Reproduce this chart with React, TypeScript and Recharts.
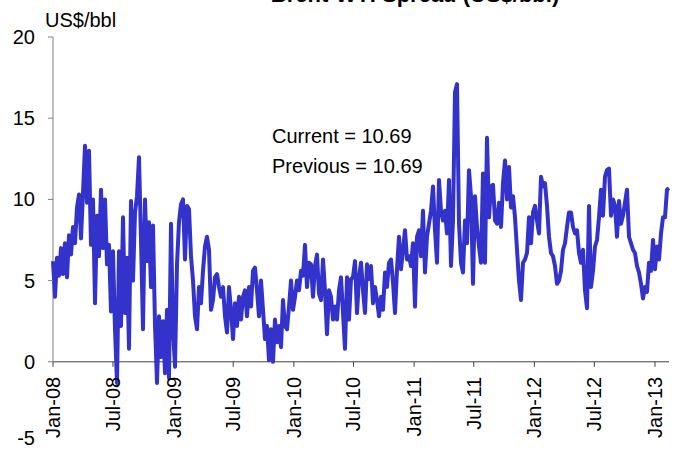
import React from 'react';
import { LineChart, Line, XAxis, YAxis, ReferenceLine } from 'recharts';

// spread series, one reading roughly every 6 days from 1 Jan 2008
const START = Date.UTC(2008, 0, 1);
const DAY = 86400000;
const STEP_DAYS = 6.07;

const values2008 = [
  6.2, 4.0, 6.4, 5.3, 7.0, 5.4, 7.3, 5.2, 7.8, 6.6, 8.3, 7.3, 9.5, 10.3, 7.6, 10.4,
  13.3, 9.8, 13.0, 7.2, 10.0, 3.6, 9.0, 6.5, 10.6, 7.0, 10.0, 6.0, 7.2, 3.1, 6.8,
  2.0, -1.3, 6.8, 2.2, 8.9, 3.0, 6.4, 0.8, 9.9, 5.0, 9.2, 10.2, 12.6, 7.5, 2.0,
  10.0, 6.2, 8.6, 4.6, 8.4, 2.3, -1.3, 2.8, 0.3, 2.5, -0.7, 3.2, -1.0, 8.5, 2.0,
];
const values2009 = [
  -0.3, 6.0, 8.6, 9.7, 10.0, 6.3, 9.6, 9.4, 6.5, 5.0, 2.8, 2.0, 4.6, 3.6, 5.6,
  7.1, 7.7, 6.9, 3.2, 3.8, 5.2, 5.4, 4.6, 4.0, 4.6, 2.8, 1.8, 4.6, 3.2, 1.4,
  3.6, 2.2, 4.0, 2.6, 4.0, 4.4, 2.8, 4.6, 3.4, 5.6, 5.8, 4.4, 2.8, 5.0, 3.2,
  1.4, 2.2, 0.1, 2.0, 0.0, 2.6, 1.2, 2.2, 0.9, 3.8, 2.2, 2.0, 3.4, 5.0, 3.2,
];
const values2010 = [
  4.0, 5.0, 4.4, 5.6, 5.3, 7.2, 4.6, 6.1, 6.0, 4.0, 5.9, 6.6, 4.2, 3.8, 6.3,
  4.4, 1.7, 4.4, 4.0, 2.6, 3.4, 2.6, 4.4, 5.2, 3.0, 0.8, 5.2, 2.6, 5.1, 5.2,
  6.2, 3.0, 5.2, 6.1, 4.4, 3.0, 6.0, 5.1, 5.9, 3.6, 4.6, 3.8, 2.8, 4.0, 3.2,
  5.5, 4.6, 6.1, 6.3, 4.9, 3.0, 5.7, 7.7, 5.7, 6.9, 8.1, 6.3, 6.5, 5.9, 7.3,
];
const values2011 = [
  3.4, 7.7, 8.1, 6.5, 9.3, 5.5, 7.7, 8.5, 9.3, 10.8, 8.1, 6.1, 11.2, 9.3, 8.7,
  9.3, 7.9, 11.2, 5.9, 8.7, 16.6, 17.1, 8.5, 6.1, 5.5, 8.7, 7.3, 11.8, 10.2, 4.8,
  10.2, 8.3, 7.1, 6.1, 11.6, 6.1, 13.8, 8.9, 10.8, 10.9, 8.7, 8.5, 9.8, 8.3, 11.0,
  12.4, 10.0, 12.0, 9.5, 10.2, 8.9, 6.9, 5.0, 3.8, 6.1, 6.3, 6.7, 8.9, 7.3, 9.2,
];
const values2012 = [
  9.6, 8.7, 7.9, 11.4, 10.8, 11.0, 9.6, 7.7, 6.7, 6.5, 5.9, 4.8, 5.0, 5.6, 6.9,
  7.3, 8.3, 9.2, 9.2, 8.3, 7.9, 8.1, 6.7, 6.1, 6.9, 4.4, 3.3, 9.6, 4.6, 5.6,
  7.1, 7.5, 8.9, 10.6, 9.0, 11.4, 11.8, 11.9, 9.0, 10.0, 9.6, 7.7, 9.9, 8.5, 9.0,
  9.8, 10.6, 7.7, 7.3, 6.9, 6.7, 5.9, 5.5, 4.8, 3.9, 4.6, 4.3, 6.1, 5.6, 7.5,
];
const values2013 = [5.7, 7.1, 6.3, 7.9, 8.9, 8.9, 10.6, 10.69];

const tickMonths: [number, number][] = [
  [2008, 0], [2008, 6], [2009, 0], [2009, 6], [2010, 0], [2010, 6],
  [2011, 0], [2011, 6], [2012, 0], [2012, 6], [2013, 0],
];
const MONTHS = ['Jan', 'Feb', 'Mar', 'Apr', 'May', 'Jun', 'Jul', 'Aug', 'Sep', 'Oct', 'Nov', 'Dec'];
const yTicks = [-5, 0, 5, 10, 15, 20];

const series = [...values2008, ...values2009, ...values2010, ...values2011, ...values2012, ...values2013];
const data = series.map((v, i) => ({ t: START + i * STEP_DAYS * DAY, spread: v }));
const END = START + (series.length - 1) * STEP_DAYS * DAY;
const xTicks = tickMonths.map(([y, m]) => Date.UTC(y, m, 1));

const W = 677;
const H = 450;
const TOP = 37;
const BOTTOM = 443;
const LEFT = 53;
const ZERO_Y = TOP + ((BOTTOM - TOP) * 20) / 25;
const FONT = '"Liberation Sans", Arial, sans-serif';

const fmtDate = (t: number) => {
  const d = new Date(t);
  return `${MONTHS[d.getUTCMonth()]}-${String(d.getUTCFullYear()).slice(2)}`;
};

const XTick = (props: any) => {
  const { x, payload } = props;
  const ty = ZERO_Y + 15;
  return (
    <g>
      <line x1={x} x2={x} y1={ZERO_Y} y2={ZERO_Y + 5} stroke="#404040" />
      <text
        x={x}
        y={ty}
        dy="0.35em"
        textAnchor="end"
        transform={`rotate(-90 ${x} ${ty})`}
        fontSize={20}
        fontFamily={FONT}
        fill="#000"
      >
        {fmtDate(payload.value)}
      </text>
    </g>
  );
};

const YTick = (props: any) => {
  const { y, payload } = props;
  return (
    <g>
      {payload.value >= 0 && <line x1={LEFT - 5} x2={LEFT} y1={y} y2={y} stroke="#808080" />}
      <text x={35} y={y} dy={payload.value < 0 ? '0.1em' : '0.35em'} textAnchor="end" fontSize={20} fontFamily={FONT} fill="#000">
        {payload.value}
      </text>
    </g>
  );
};

export default function App() {
  return (
    <div style={{ position: 'absolute', left: 0, top: 0, width: W, height: H, background: '#fff' }}>
      <LineChart width={W} height={H} data={data} margin={{ top: TOP, right: 8, bottom: 0, left: 13 }}>
        <XAxis
          dataKey="t"
          type="number"
          domain={[START, END]}
          ticks={xTicks}
          height={H - BOTTOM}
          axisLine={false}
          tickLine={false}
          tick={XTick}
          interval={0}
        />
        <YAxis
          type="number"
          domain={[-5, 20]}
          ticks={yTicks}
          width={40}
          axisLine={false}
          tickLine={false}
          tick={YTick}
          interval={0}
        />
        <ReferenceLine y={0} stroke="#404040" strokeWidth={1} />
        <ReferenceLine
          segment={[{ x: START, y: 0 }, { x: START, y: 20 }]}
          stroke="#808080"
          strokeWidth={1}
        />
        <Line
          type="linear"
          dataKey="spread"
          stroke="#3333CC"
          strokeWidth={4}
          strokeLinejoin="round"
          dot={false}
          isAnimationActive={false}
        />
      </LineChart>
      <svg
        width={W}
        height={H}
        style={{ position: 'absolute', left: 0, top: 0, pointerEvents: 'none' }}
        fontFamily={FONT}
      >
        <text x={415} y={2} textAnchor="middle" fontSize={22} fontWeight="bold" fill="#000">
          Brent-WTI Spread (US$/bbl)
        </text>
        <text x={45} y={27} fontSize={20} fill="#000">US$/bbl</text>
        <text x={272} y={143} fontSize={20} fill="#000">Current = 10.69</text>
        <text x={272} y={173} fontSize={20} fill="#000">Previous = 10.69</text>
      </svg>
    </div>
  );
}
